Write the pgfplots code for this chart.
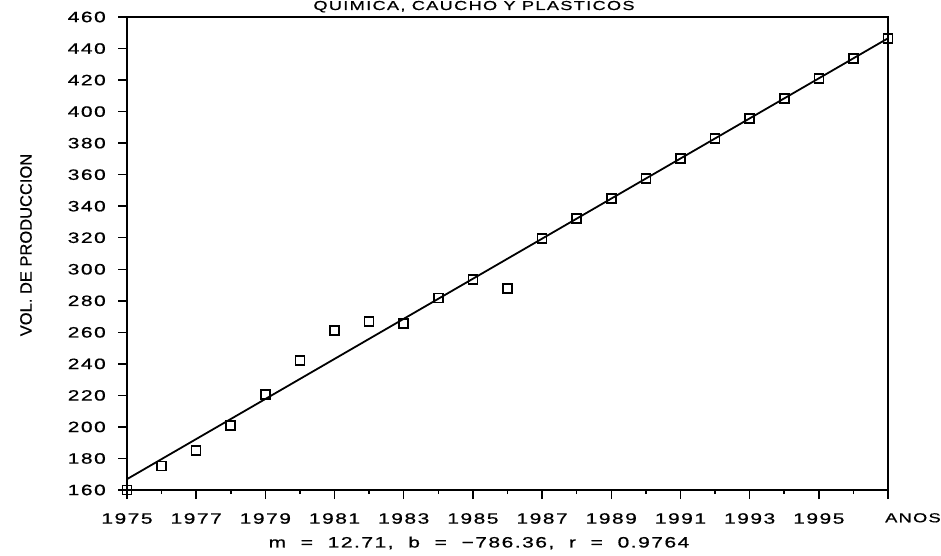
\documentclass[border=0pt]{standalone}
\usepackage{fontspec}
\setmainfont{Liberation Sans}
\newfontfamily\dm[FakeStretch=1.4,LetterSpace=10,FakeBold=0.8]{Liberation Sans}
\newfontfamily\dmlab[FakeBold=0.5]{Liberation Sans}
\usepackage{pgfplots}
\pgfplotsset{compat=1.18}
\newcommand{\nfont}{\dm\fontsize{15}{15}\selectfont}
\newcommand{\tfont}{\dm\fontsize{13}{13}\selectfont}
\begin{document}
\begin{tikzpicture}[x=1pt,y=1pt]
\path[use as bounding box] (0,0) rectangle (941,555);
\begin{axis}[
  at={(127pt,65pt)}, anchor=south west,
  scale only axis, width=761pt, height=473pt,
  xmin=1975, xmax=1997, ymin=160, ymax=460,
  clip=false,
  axis line style={line width=1.5pt},
  every tick/.style={line width=1.5pt, black},
  xtick={1975,1977,1979,1981,1983,1985,1987,1989,1991,1993,1995},
  xticklabels={1975,1977,1979,1981,1983,1985,1987,1989,1991,1993,1995},
  minor xtick={1976,1978,1980,1982,1984,1986,1988,1990,1992,1994,1996},
  extra x ticks={1997}, extra x tick labels={ANOS},
  extra x tick style={xticklabel style={font=\tfont, anchor=north west, xshift=-3pt}},
  ytick={160,180,200,220,240,260,280,300,320,340,360,380,400,420,440,460},
  yticklabels={160,180,200,220,240,260,280,300,320,340,360,380,400,420,440,460},
  tick align=outside, tick pos=left,
  major tick length=9pt, minor tick length=4pt,
  xticklabel style={font=\nfont, inner sep=0pt, anchor=north, yshift=-14pt},
  yticklabel style={font=\nfont, inner sep=0pt, anchor=east, xshift=-12pt},
]
\addplot[line width=1.8pt] coordinates {(1975,166.89) (1997,446.51)};
\addplot[only marks, mark=square, mark size=4.5pt, mark options={line width=1.6pt, fill=none}] coordinates {
(1975,160) (1976,175.2) (1977,185.2) (1978,201.0) (1979,220.7) (1980,242.0)
(1981,261.3) (1982,266.7) (1983,265.5) (1984,281.7) (1985,293.6) (1986,287.9)
(1987,319.4) (1988,332.1) (1989,344.8) (1990,357.5) (1991,370.3) (1992,383.0)
(1993,395.7) (1994,408.4) (1995,421.1) (1996,433.8) (1997,446.5)
};
\end{axis}
\node[font=\tfont, anchor=base] at (474,545) {QUIMICA, CAUCHO Y PLASTICOS};
\node[font=\dmlab\fontsize{16.5}{16.5}\selectfont, rotate=90] at (26,310) {VOL. DE PRODUCCION};
\node[font=\nfont] at (479,12) {m\ \ =\ \ 12.71,\ \ b\ \ =\ \ −786.36,\ \ r\ \ =\ \ 0.9764};
\end{tikzpicture}
\end{document}
